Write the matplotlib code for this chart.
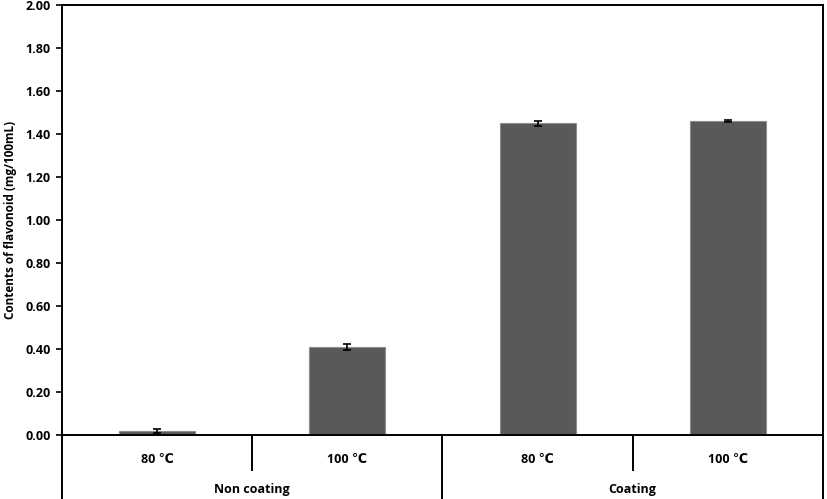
import matplotlib.pyplot as plt
import matplotlib.transforms as mtransforms

plt.rcParams['font.family'] = ['Open Sans', 'DejaVu Sans']

temps = ['80 ℃', '100 ℃', '80 ℃', '100 ℃']
groups = ['Non coating', 'Coating']
values = [0.02, 0.41, 1.45, 1.46]
errors = [0.010, 0.015, 0.012, 0.003]
yticks = [0.0, 0.2, 0.4, 0.6, 0.8, 1.0, 1.2, 1.4, 1.6, 1.8, 2.0]

fig = plt.figure(figsize=(8.27, 4.99), dpi=100)
ax = fig.add_axes([0.075, 0.128, 0.92, 0.862])

x = list(range(len(values)))
ax.bar(x, values, width=0.4, color='#595959', edgecolor='#8c8c8c', linewidth=0.8,
       yerr=errors, capsize=3, error_kw=dict(ecolor='black', elinewidth=1.2, capthick=1.2))

ax.set_xlim(-0.5, len(values) - 0.5)
ax.set_ylim(0, 2.0)
ax.set_yticks(yticks)
ax.set_yticklabels([f'{v:.2f}' for v in yticks], fontsize=9, fontweight='bold')
ax.tick_params(axis='y', direction='out', length=4, width=1.2, pad=4)
ax.set_xticks([])
for s in ax.spines.values():
    s.set_linewidth(1.4)
ax.set_ylabel('Contents of flavonoid (mg/100mL)', fontsize=8.5, fontweight='bold', labelpad=6)

# category table below axis
tr = mtransforms.blended_transform_factory(ax.transData, ax.transAxes)
for i, t in enumerate(temps):
    ax.text(i, -0.056, t, transform=tr, ha='center', va='center', fontsize=9, fontweight='bold')
for j, g in enumerate(groups):
    ax.text(2 * j + 0.5, -0.126, g, transform=tr, ha='center', va='center', fontsize=9, fontweight='bold')

# short dividers between temperatures
for xd in [0.5, 2.5]:
    ax.plot([xd, xd], [0, -0.081], transform=tr, color='black', lw=1.4, clip_on=False)
# long dividers between groups
for xd in [-0.5, 1.5, 3.5]:
    ax.plot([xd, xd], [0, -0.16], transform=tr, color='black', lw=1.4, clip_on=False)

fig.savefig('out.png', dpi=100)
